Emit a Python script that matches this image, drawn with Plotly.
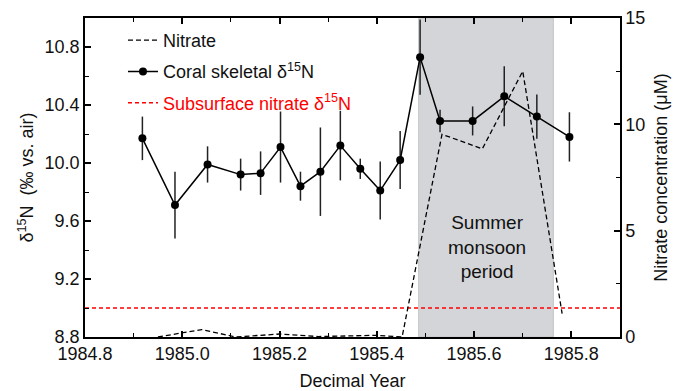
import plotly.graph_objects as go

# ---- data ----
coral_year = [1984.918, 1984.985, 1985.052, 1985.120, 1985.161, 1985.202, 1985.243,
              1985.284, 1985.325, 1985.366, 1985.407, 1985.448, 1985.489, 1985.530,
              1985.597, 1985.662, 1985.729, 1985.796]
coral_d15n = [10.17, 9.71, 9.99, 9.92, 9.93, 10.11, 9.84, 9.94, 10.12, 9.96, 9.81,
              10.02, 10.73, 10.29, 10.29, 10.46, 10.32, 10.18]
coral_err = [0.15, 0.23, 0.125, 0.11, 0.15, 0.245, 0.10, 0.305, 0.24, 0.07, 0.20,
             0.20, 0.26, 0.078, 0.10, 0.207, 0.153, 0.17]

nitrate_year = [1984.95, 1985.04, 1985.11, 1985.20, 1985.28, 1985.40, 1985.452,
                1985.534, 1985.617, 1985.70, 1985.781]
nitrate_conc = [0.0, 0.35, 0.0, 0.14, 0.02, 0.08, 0.0, 9.53, 8.85, 12.5, 1.1]

subsurface_year = [1984.8, 1985.9]
subsurface_d15n = [9.0, 9.0]

monsoon_start = 1985.486
monsoon_end = 1985.763

x_range = [1984.8, 1985.9]
y_left_range = [8.8, 11.0]
y_right_range = [0, 15]

FONT = "Arial, 'Liberation Sans', sans-serif"
FS = 18

fig = go.Figure()

fig.add_trace(go.Scatter(
    x=nitrate_year, y=nitrate_conc, yaxis="y2", mode="lines",
    name="Nitrate", legendgroup="a",
    line=dict(color="black", width=1.3, dash="5px,3px"),
))
fig.add_trace(go.Scatter(
    x=coral_year, y=coral_d15n, mode="lines+markers",
    name="Coral skeletal \u03b4<sup>15</sup>N", legendgroup="b",
    line=dict(color="black", width=1.5),
    marker=dict(color="black", size=8),
    error_y=dict(type="data", array=coral_err, visible=True, width=0,
                 thickness=1.5, color="#222222"),
))
fig.add_trace(go.Scatter(
    x=subsurface_year, y=subsurface_d15n, mode="lines",
    name="<span style='color:red'>Subsurface nitrate \u03b4<sup>15</sup>N</span>",
    legendgroup="c",
    line=dict(color="#ff0000", width=1.5, dash="4px,3px"),
))

fig.add_shape(type="rect", xref="x", yref="paper",
              x0=monsoon_start, x1=monsoon_end, y0=0, y1=1,
              fillcolor="#d4d5d8", line=dict(color="#c4c5c8", width=1),
              layer="below")

fig.add_annotation(x=1985.627, y=9.42, xref="x", yref="y",
                   text="Summer<br>monsoon<br>period", showarrow=False,
                   font=dict(size=19, color="#111111", family=FONT), align="center")

axis_common = dict(showline=True, linecolor="black", linewidth=1.5,
                   ticks="inside", tickcolor="black", tickwidth=1.5,
                   showgrid=False, zeroline=False, automargin=False,
                   tickfont=dict(size=FS, color="#111111", family=FONT))

fig.update_layout(
    width=686, height=391,
    margin=dict(l=85, r=66, t=18, b=54),
    paper_bgcolor="white", plot_bgcolor="white",
    separators=".",
    font=dict(family=FONT, size=FS, color="#111111"),
    xaxis=dict(range=x_range, dtick=0.2, tick0=1984.8, ticklen=6, mirror="ticks",
               tickformat=".1f",
               minor=dict(dtick=0.1, ticks="inside", ticklen=4, tickcolor="black",
                          tickwidth=1.2),
               title=dict(text="Decimal Year", font=dict(size=FS), standoff=15),
               **axis_common),
    yaxis=dict(range=y_left_range, dtick=0.4, tick0=8.8, ticklen=6, tickformat=".1f",
               minor=dict(dtick=0.2, ticks="inside", ticklen=4, tickcolor="black",
                          tickwidth=1.2),
               title=dict(text="\u03b4<sup>15</sup>N  (\u2030 vs. air)",
                          font=dict(size=FS), standoff=6),
               **axis_common),
    yaxis2=dict(range=y_right_range, dtick=5, ticklen=6, overlaying="y", side="right",
                minor=dict(dtick=2.5, ticks="inside", ticklen=4, tickcolor="black",
                           tickwidth=1.2),
                title=dict(text="Nitrate concentration (\u03bcM)",
                           font=dict(size=FS), standoff=10),
                **axis_common),
    legend=dict(x=0.071, y=0.988, xanchor="left", yanchor="top",
                bgcolor="rgba(0,0,0,0)", font=dict(size=FS),
                tracegroupgap=5, traceorder="grouped"),
    showlegend=True,
)

fig.write_html("out.html")
